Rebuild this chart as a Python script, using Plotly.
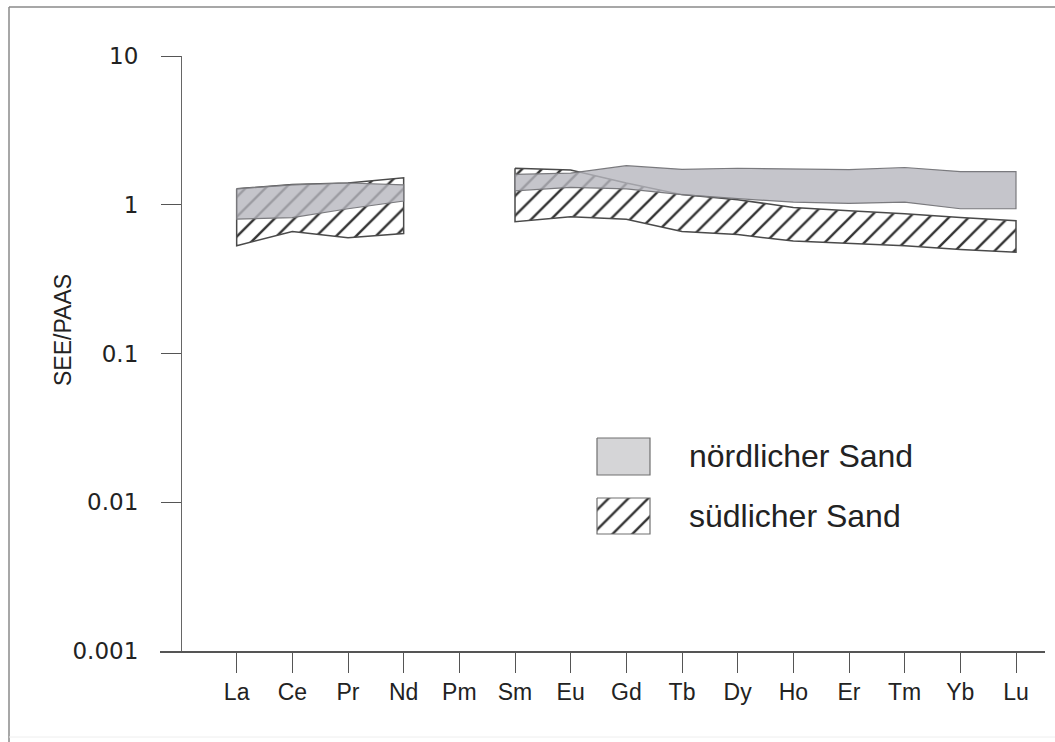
import plotly.graph_objects as go

# Rare earth elements (PAAS-normalised), in atomic order
elements = ["La", "Ce", "Pr", "Nd", "Pm", "Sm", "Eu", "Gd", "Tb", "Dy", "Ho", "Er", "Tm", "Yb", "Lu"]
lree = ["La", "Ce", "Pr", "Nd"]
hree = ["Sm", "Eu", "Gd", "Tb", "Dy", "Ho", "Er", "Tm", "Yb", "Lu"]

# Northern sand: envelope (max / min) of SEE/PAAS
north_lree_upper = [1.28, 1.36, 1.40, 1.36]
north_lree_lower = [0.80, 0.82, 0.94, 1.06]
north_hree_upper = [1.60, 1.63, 1.83, 1.73, 1.76, 1.74, 1.72, 1.78, 1.67, 1.67]
north_hree_lower = [1.24, 1.31, 1.28, 1.17, 1.10, 1.04, 1.02, 1.04, 0.94, 0.94]

# Southern sand: envelope (max / min) of SEE/PAAS
south_lree_upper = [1.28, 1.37, 1.40, 1.52]
south_lree_lower = [0.53, 0.66, 0.60, 0.64]
south_hree_upper = [1.76, 1.71, 1.40, 1.17, 1.08, 0.96, 0.91, 0.87, 0.82, 0.78]
south_hree_lower = [0.77, 0.83, 0.80, 0.66, 0.63, 0.57, 0.55, 0.53, 0.50, 0.48]

y_tickvals = [0.001, 0.01, 0.1, 1, 10]
y_ticktext = ["0.001", "0.01", "0.1", "1", "10"]

legend_labels = ["nördlicher Sand", "südlicher Sand"]

GRAY_FILL = "rgba(182,182,190,0.80)"
GRAY_LINE = "#7a7a7e"
HATCH_LINE = "#4a4a4a"
HATCH = dict(shape="/", size=14, solidity=0.17, fgcolor="#333333",
             bgcolor="white", fillmode="replace")

idx = {e: i for i, e in enumerate(elements)}


def band(names, upper, lower):
    xs = [idx[n] for n in names]
    return xs + xs[::-1] + [xs[0]], list(upper) + list(lower)[::-1] + [upper[0]]


fig = go.Figure()

# southern sand (hatched) underneath
for names, up, lo in [(lree, south_lree_upper, south_lree_lower),
                      (hree, south_hree_upper, south_hree_lower)]:
    x, y = band(names, up, lo)
    fig.add_trace(go.Scatter(x=x, y=y, mode="lines", fill="toself",
                             fillpattern=HATCH, fillcolor="white",
                             line=dict(color=HATCH_LINE, width=1.5),
                             hoverinfo="skip", showlegend=False))

# northern sand (semi-transparent gray) on top
for names, up, lo in [(lree, north_lree_upper, north_lree_lower),
                      (hree, north_hree_upper, north_hree_lower)]:
    x, y = band(names, up, lo)
    fig.add_trace(go.Scatter(x=x, y=y, mode="lines", fill="toself",
                             fillcolor=GRAY_FILL,
                             line=dict(color=GRAY_LINE, width=1.2),
                             hoverinfo="skip", showlegend=False))

# legend swatches on an overlay axis measured in pixels
L, R, T, B = 160, 1045, 56, 651
sw_x = [597, 650, 650, 597, 597]
fig.add_trace(go.Scatter(x=sw_x, y=[438, 438, 475, 475, 438], xaxis="x2", yaxis="y2",
                         mode="lines", fill="toself", fillcolor="#d5d5d7",
                         line=dict(color="#707070", width=1.2),
                         hoverinfo="skip", showlegend=False))
fig.add_trace(go.Scatter(x=sw_x, y=[498, 498, 534, 534, 498], xaxis="x2", yaxis="y2",
                         mode="lines", fill="toself", fillcolor="white",
                         fillpattern=HATCH,
                         line=dict(color="#707070", width=1.2),
                         hoverinfo="skip", showlegend=False))
for label, yc in zip(legend_labels, [456, 516]):
    fig.add_annotation(x=687, y=yc, xref="x2", yref="y2", text=label,
                       showarrow=False, xanchor="left", yanchor="middle",
                       font=dict(family="Liberation Sans, Arial, sans-serif",
                                 size=32, color="#222222"))

px_per_unit = 55.667
x_lo = -1 - (181 - L) / px_per_unit
x_hi = 14 + (R - 1016) / px_per_unit

fig.update_layout(
    width=1055, height=742,
    margin=dict(l=L, r=1055 - R, t=T, b=742 - B),
    paper_bgcolor="white", plot_bgcolor="white",
    xaxis=dict(range=[x_lo, x_hi], tickmode="array",
               tickvals=list(range(len(elements))), ticktext=elements,
               showline=True, linecolor="#555555", linewidth=1.5,
               ticks="outside", ticklen=20, tickcolor="#555555", tickwidth=1,
               showgrid=False, zeroline=False, anchor="y",
               tickfont=dict(family="Liberation Sans Narrow, Arial Narrow, Liberation Sans, sans-serif",
                             size=23, color="#222222")),
    yaxis=dict(type="log", range=[-3, 1], anchor="free",
               position=(181 - L) / (R - L),
               tickmode="array", tickvals=y_tickvals, ticktext=y_ticktext,
               showline=True, linecolor="#666666", linewidth=1.2,
               ticks="outside", ticklen=20, tickcolor="#555555", tickwidth=1,
               ticklabelstandoff=18,
               showgrid=False, zeroline=False,
               tickfont=dict(family="DejaVu Sans, sans-serif", size=23, color="#222222")),
    xaxis2=dict(range=[L, R], overlaying="x", anchor="y2", visible=False),
    yaxis2=dict(range=[B, T], overlaying="y", anchor="x2", visible=False),
)

# y-axis title
fig.add_annotation(x=(48 - L) / (R - L), y=(B - 330) / (B - T), xref="paper", yref="paper",
                   text="SEE/PAAS", textangle=-90, showarrow=False,
                   font=dict(family="Liberation Sans Narrow, Arial Narrow, Liberation Sans, sans-serif",
                             size=23, color="#222222"))

# thin frame around the figure
def px_x(p):
    return (p - L) / (R - L)


def px_y(p):
    return (B - p) / (B - T)


frame = dict(color="#8a8a8a", width=1.5)
fig.add_shape(type="line", xref="paper", yref="paper",
              x0=px_x(9), x1=px_x(1055), y0=px_y(7), y1=px_y(7), line=frame)
fig.add_shape(type="line", xref="paper", yref="paper",
              x0=px_x(9), x1=px_x(9), y0=px_y(7), y1=px_y(742), line=frame)
fig.add_shape(type="line", xref="paper", yref="paper",
              x0=px_x(9), x1=px_x(1055), y0=px_y(737), y1=px_y(737),
              line=dict(color="#eeeeee", width=1))

fig.write_html("out.html")
